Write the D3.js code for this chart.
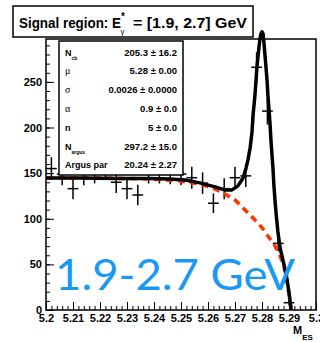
<!DOCTYPE html>
<html>
<head>
<meta charset="utf-8">
<script src="https://cdn.jsdelivr.net/npm/d3@7"></script>
<style>
  body { margin: 0; background: #fff; }
  svg { display: block; }
</style>
</head>
<body>
<div id="chart"></div>
<script>
// M_ES bins (centres) and event counts
const binCenters = [5.202, 5.206, 5.210, 5.214, 5.218, 5.222, 5.226, 5.230, 5.234, 5.238,
  5.242, 5.246, 5.250, 5.254, 5.258, 5.262, 5.266, 5.270, 5.274, 5.278,
  5.282, 5.286, 5.290, 5.294, 5.298];
const counts = [155, 149, 133, 149, 151, 158, 140, 133, 126, 151,
  151, 150, 149, 145, 139, 117, 133, 145, 147, 266,
  218, 73, 8, 0, 0];
const errors = [12.4, 12.2, 11.5, 12.2, 12.3, 12.6, 11.8, 11.5, 11.2, 12.3,
  12.3, 12.2, 12.2, 12.0, 11.8, 10.8, 11.5, 12.0, 12.1, 16.3,
  14.8, 8.5, 2.8, 0, 0];

// total fit (black) and argus background (red dashed)
const fitMass = [5.2000, 5.2126, 5.2274, 5.2385, 5.2459, 5.2515, 5.2570, 5.2626, 5.2663, 5.2689,
  5.2711, 5.2730, 5.2741, 5.2748, 5.2756, 5.2763, 5.2767, 5.2774, 5.2778, 5.2781,
  5.2785, 5.2789, 5.2793, 5.2796, 5.2800, 5.2804, 5.2807, 5.2811, 5.2815, 5.2819,
  5.2822, 5.2826, 5.2830, 5.2833, 5.2837, 5.2841, 5.2844, 5.2848, 5.2852, 5.2859,
  5.2867, 5.2878, 5.2889, 5.2896, 5.2902, 5.2906, 5.2908];
const fitTotal = [144.7, 144.7, 144.2, 144.2, 143.6, 142.5, 139.3, 134.9, 131.6, 131.6,
  136.0, 144.7, 155.7, 164.5, 177.6, 195.2, 213.8, 235.7, 252.2, 265.4,
  277.4, 288.4, 298.2, 302.6, 304.8, 302.6, 293.9, 279.6, 265.4, 250.0,
  234.6, 219.3, 202.9, 186.4, 170.0, 153.5, 137.1, 120.6, 106.4, 85.5,
  68, 54, 40, 27, 15, 5, 0];
const argusMass = [5.2000, 5.2200, 5.2385, 5.2496, 5.2570, 5.2626, 5.2663, 5.2700, 5.2730, 5.2756,
  5.2781, 5.2804, 5.2822, 5.2841, 5.2856, 5.2867, 5.2878, 5.2889, 5.2896, 5.2902,
  5.2906, 5.2908];
const argusVals = [144.7, 144.7, 143.6, 141.4, 138.2, 132.7, 127.2, 120.6, 111.8, 104.2,
  96.5, 88.8, 81.1, 73.5, 65.8, 59.2, 51, 38, 25, 14,
  4, 0];

const xMajor = [5.2, 5.21, 5.22, 5.23, 5.24, 5.25, 5.26, 5.27, 5.28, 5.29, 5.3];
const xLabels = ["5.2", "5.21", "5.22", "5.23", "5.24", "5.25", "5.26", "5.27", "5.28", "5.29", "5.3"];
const yMajor = [0, 50, 100, 150, 200, 250];

// fit parameter table
const parLabels = ["N", "\u03bc", "\u03c3", "\u03b1", "n", "N", "Argus par"];
const parSubs = ["cb", "", "", "", "", "argus", ""];
const parValues = ["205.3 \u00b1 16.2", "5.28 \u00b1 0.00", "0.0026 \u00b1 0.0000", "0.9 \u00b1 0.0",
  "5 \u00b1 0.0", "297.2 \u00b1 15.0", "20.24 \u00b1 2.27"];

const W = 320, H = 342;
const padL = 46, padR = 316, padT = 39, padB = 310;
const binWidth = 0.004;

const svg = d3.select("#chart").append("svg")
  .attr("width", W).attr("height", H)
  .style("font-family", "'Liberation Sans', Arial, sans-serif");

const x = d3.scaleLinear().domain([5.2, 5.3]).range([padL, padR]);
const y = d3.scaleLinear().domain([0, 297]).range([padB, padT]);

// axes, ticks drawn inward like ROOT
const xMinor = d3.range(5.2, 5.3001, 0.002).map((d) => +d.toFixed(3));
const yMinor = d3.range(0, 297, 10);

svg.append("g")
  .attr("transform", `translate(0,${padB})`)
  .call(d3.axisBottom(x).tickValues(xMinor).tickSize(-4).tickFormat("").tickSizeOuter(0))
  .call((g) => g.select(".domain").remove());
svg.append("g")
  .attr("transform", `translate(0,${padB})`)
  .call(d3.axisBottom(x).tickValues(xMajor).tickSize(-8).tickPadding(4)
    .tickFormat((d, i) => xLabels[i]).tickSizeOuter(0))
  .call((g) => g.select(".domain").remove())
  .call((g) => g.selectAll("text").attr("font-size", 11).attr("font-weight", "bold")
    .attr("font-family", "'Liberation Sans', Arial, sans-serif").attr("fill", "#000"));

svg.append("g")
  .attr("transform", `translate(${padL},0)`)
  .call(d3.axisLeft(y).tickValues(yMinor).tickSize(-4).tickFormat("").tickSizeOuter(0))
  .call((g) => g.select(".domain").remove());
svg.append("g")
  .attr("transform", `translate(${padL},0)`)
  .call(d3.axisLeft(y).tickValues(yMajor).tickSize(-8).tickPadding(4).tickSizeOuter(0))
  .call((g) => g.select(".domain").remove())
  .call((g) => g.selectAll("text").attr("font-size", 11).attr("font-weight", "bold")
    .attr("font-family", "'Liberation Sans', Arial, sans-serif").attr("fill", "#000"));

svg.selectAll(".tick line").attr("stroke", "#000").attr("stroke-width", 1);

// frame
svg.append("rect")
  .attr("x", padL).attr("y", padT)
  .attr("width", padR - padL).attr("height", padB - padT)
  .attr("fill", "none").attr("stroke", "#000").attr("stroke-width", 1.5);

// axis title
const mes = svg.append("text").attr("x", 293).attr("y", 334)
  .attr("font-size", 11).attr("font-weight", "bold").text("M");
mes.append("tspan").attr("font-size", 8).attr("dy", 6).text("ES");

// data points with error bars
const pts = svg.append("g").attr("stroke", "#000").attr("stroke-width", 1.5);
binCenters.forEach((m, i) => {
  if (counts[i] <= 0) return;
  pts.append("line")
    .attr("x1", x(m - binWidth / 2)).attr("x2", x(m + binWidth / 2))
    .attr("y1", y(counts[i])).attr("y2", y(counts[i]));
  pts.append("line")
    .attr("x1", x(m)).attr("x2", x(m))
    .attr("y1", y(counts[i] - errors[i])).attr("y2", y(counts[i] + errors[i]));
});

const line = d3.line().x((d) => x(d[0])).y((d) => y(d[1]));

svg.append("path")
  .datum(argusMass.map((m, i) => [m, argusVals[i]]))
  .attr("d", line)
  .attr("fill", "none").attr("stroke", "#ff3300").attr("stroke-width", 3.5)
  .attr("stroke-dasharray", "7,5");

svg.append("path")
  .datum(fitMass.map((m, i) => [m, fitTotal[i]]))
  .attr("d", line)
  .attr("fill", "none").attr("stroke", "#000").attr("stroke-width", 3.5)
  .attr("stroke-linejoin", "round");

// parameter box
const box = svg.append("g");
box.append("rect")
  .attr("x", 59).attr("y", 41).attr("width", 124).attr("height", 134)
  .attr("fill", "#fff").attr("stroke", "#000").attr("stroke-width", 1.5);
parLabels.forEach((lab, i) => {
  const yy = 55.5 + i * 18.8;
  const greek = ["\u03bc", "\u03c3", "\u03b1"].includes(lab);
  const t = box.append("text").attr("x", 65).attr("y", yy)
    .attr("font-size", greek ? 10 : 9)
    .attr("font-weight", greek ? "normal" : "bold")
    .attr("font-family", greek ? "'Liberation Serif', serif" : "'Liberation Sans', Arial, sans-serif")
    .text(lab);
  if (parSubs[i]) {
    t.append("tspan").attr("font-size", 5).attr("dy", 4).text(parSubs[i]);
  }
  box.append("text").attr("x", 177).attr("y", yy)
    .attr("text-anchor", "end").attr("font-size", 9.5).attr("font-weight", "bold")
    .text(parValues[i]);
});

// title box
svg.append("rect")
  .attr("x", 13).attr("y", 6).attr("width", 240).attr("height", 31)
  .attr("fill", "#fff").attr("stroke", "#000").attr("stroke-width", 1.5);
const title = svg.append("g").attr("font-weight", "bold").attr("font-size", 15);
title.append("text").attr("x", 19).attr("y", 28)
  .attr("textLength", 102).attr("lengthAdjust", "spacingAndGlyphs")
  .text("Signal region: E");
title.append("text").attr("x", 121).attr("y", 20).attr("font-size", 10).text("*");
title.append("text").attr("x", 120.5).attr("y", 34).attr("font-size", 8).attr("font-weight", "normal").text("\u03b3");
title.append("text").attr("x", 133).attr("y", 28)
  .attr("textLength", 114).attr("lengthAdjust", "spacingAndGlyphs")
  .text("= [1.9, 2.7] GeV");

// big energy label
svg.append("text")
  .attr("x", 55).attr("y", 290)
  .attr("font-family", "Lato, 'Open Sans', sans-serif")
  .attr("font-size", 42)
  .attr("fill", "#1a98f5")
  .attr("textLength", 240).attr("lengthAdjust", "spacingAndGlyphs")
  .text("1.9-2.7 GeV");
</script>
</body>
</html>
